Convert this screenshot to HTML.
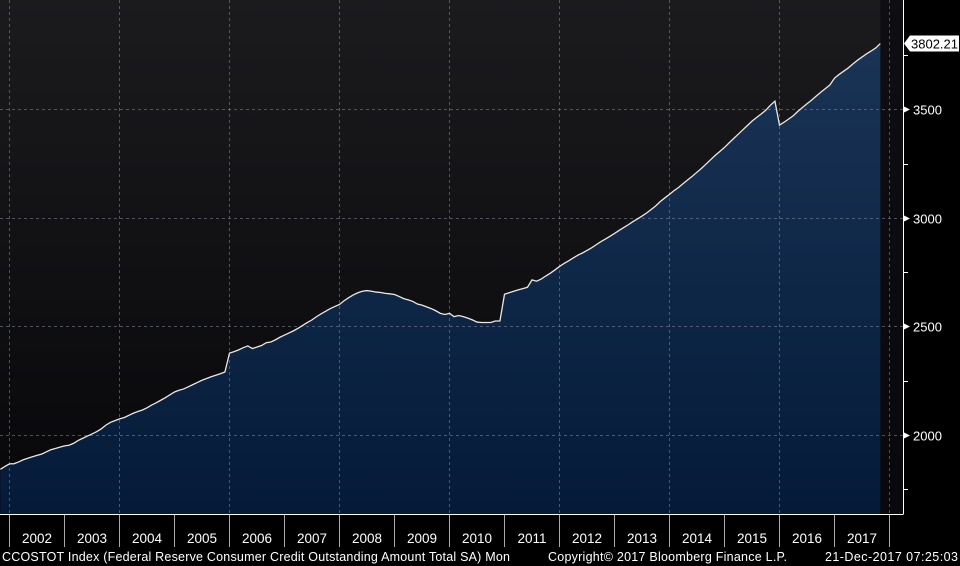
<!DOCTYPE html>
<html><head><meta charset="utf-8"><style>
html,body{margin:0;padding:0;background:#000;}
svg{display:block;font-family:"Liberation Sans",sans-serif;}
</style></head><body>
<svg width="960" height="566" viewBox="0 0 960 566">
<defs>
<linearGradient id="bg" x1="0" y1="0" x2="0" y2="1"><stop offset="0" stop-color="#1b1b1e"/><stop offset="1" stop-color="#07070a"/></linearGradient>
<linearGradient id="fill" x1="0" y1="0" x2="0" y2="1"><stop offset="0" stop-color="#1a3456"/><stop offset="1" stop-color="#041a38"/></linearGradient>
</defs>
<rect x="0" y="0" width="903" height="514" fill="url(#bg)"/>
<g id="grid"></g>
<path id="area" fill="url(#fill)"/>
<g id="vgrid"></g>
<path id="line" fill="none" stroke="#e8e8e8" stroke-width="1.3"/>
<line x1="903.5" y1="0" x2="903.5" y2="514" stroke="#fff"/>
<line x1="0" y1="514.5" x2="903.5" y2="514.5" stroke="#fff"/>
<g id="yaxis"></g>
<g id="xaxis"></g>
<g id="lastlabel"></g>
<text x="2" y="561" fill="#fff" font-size="12.5" textLength="508" lengthAdjust="spacing">CCOSTOT Index (Federal Reserve Consumer Credit Outstanding Amount Total SA)  Mon</text>
<text x="548" y="561" fill="#fff" font-size="12.5" textLength="239" lengthAdjust="spacing">Copyright© 2017 Bloomberg Finance L.P.</text>
<text x="825" y="561" fill="#fff" font-size="12.5" textLength="133" lengthAdjust="spacing">21-Dec-2017 07:25:03</text>
</svg>
<script>
const startYear = 2001, startMonth = 10; // Nov 2001 (0-based month)
const values = [
1842,1855,
1867,1868,1876,1886,1893,1900,1906,1912,1922,1932,1938,1944,
1950,1953,1962,1975,1985,1995,2005,2015,2028,2045,2058,2066,
2074,2080,2090,2100,2108,2115,2125,2138,2148,2160,2172,2185,
2198,2206,2212,2222,2232,2242,2252,2260,2268,2275,2282,2290,
2377,2384,2392,2402,2410,2398,2405,2412,2425,2428,2438,2450,
2460,2470,2480,2492,2505,2518,2530,2545,2558,2570,2582,2592,
2601,2618,2632,2645,2655,2662,2665,2662,2658,2656,2652,2650,
2647,2638,2628,2622,2615,2603,2598,2590,2582,2572,2560,2555,
2560,2545,2550,2545,2538,2530,2520,2518,2518,2518,2525,2525,
2648,2655,2662,2668,2674,2680,2714,2708,2718,2732,2745,2760,
2776,2790,2802,2815,2828,2838,2850,2862,2876,2890,2902,2915,
2928,2942,2955,2968,2982,2995,3008,3022,3038,3055,3075,3092,
3108,3125,3140,3158,3175,3192,3210,3228,3248,3268,3288,3306,
3324,3345,3365,3385,3405,3425,3445,3462,3478,3495,3518,3537,
3427,3440,3455,3470,3490,3508,3525,3542,3560,3578,3595,3612,
3643,3660,3675,3690,3708,3725,3740,3755,3768,3782,3802.21];
const yTicks = [2000,2500,3000,3500];
const yMinorTicks = [1750,2250,2750,3250,3750];
const yearLabels = ["2002","2003","2004","2005","2006","2007","2008","2009","2010","2011","2012","2013","2014","2015","2016","2017"];
const lastLabel = "3802.21";

const NS="http://www.w3.org/2000/svg";
function yS(v){return 435 - (v-2000)*0.2172;}
function xS(i){const m=(startYear-2002)*12+startMonth+i;return 9.5+m*55/12;}
function mk(tag,attrs,parent){const e=document.createElementNS(NS,tag);for(const k in attrs)e.setAttribute(k,attrs[k]);parent.appendChild(e);return e;}

let d="";
values.forEach((v,i)=>{d+=(i?"L":"M")+xS(i).toFixed(2)+","+yS(v).toFixed(2);});
document.getElementById("line").setAttribute("d",d);
const lastX=xS(values.length-1);
document.getElementById("area").setAttribute("d",d+"L"+lastX.toFixed(2)+",514L"+xS(0).toFixed(2)+",514Z");

const grid=document.getElementById("grid");
const vgrid=document.getElementById("vgrid");
const yaxis=document.getElementById("yaxis");
yTicks.forEach(t=>{
  const y=Math.round(yS(t))+0.5;
  const g=mk("line",{x1:0,x2:903,y1:y,y2:y,stroke:"#7f8c9c","stroke-width":1,"stroke-dasharray":"3,3","opacity":0.55},vgrid);
  
  
  const tr=mk("path",{d:`M904,${y-3}L910,${y}L904,${y+3}Z`,fill:"#fff"},yaxis);
  
  
  const tx=mk("text",{x:913,y:y+5,fill:"#fff","font-size":"13"},yaxis);
  tx.textContent=t;
  
  
});
yMinorTicks.forEach(t=>{
  const y=Math.round(yS(t))+0.5;
  const l=mk("line",{x1:903,x2:908,y1:y,y2:y,stroke:"#fff"},yaxis);
  
  
});
const xaxis=document.getElementById("xaxis");
for(let k=0;k<=yearLabels.length;k++){
  const x=9.5+k*55;
  if(k%2===0){
    const g=mk("line",{x1:x,x2:x,y1:0,y2:514,stroke:"#7f8c9c","stroke-dasharray":"3,3","opacity":0.55},vgrid);
    
    
  }
  const t=mk("line",{x1:x,x2:x,y1:515,y2:547,stroke:"#aaa"},xaxis);
  
  
  if(k<yearLabels.length){
    const tx=mk("text",{x:x+27.5,y:543,fill:"#fff","font-size":"13.5","text-anchor":"middle"},xaxis);
    tx.textContent=yearLabels[k];
    
    
  }
}
const dr=mk("rect",{x:lastX,y:0,width:903-lastX,height:514,fill:"#0a0a0e",opacity:0.7},grid);


const ll=document.getElementById("lastlabel");
const ly=yS(values[values.length-1]);
const bx=mk("path",{d:`M904,${ly}L910,${ly-8}L959,${ly-8}L959,${ly+8}L910,${ly+8}Z`,fill:"#fff"},ll);


const lt=mk("text",{x:911,y:ly+5,fill:"#000","font-size":"13"},ll);
lt.textContent=lastLabel;


</script>
</body></html>
